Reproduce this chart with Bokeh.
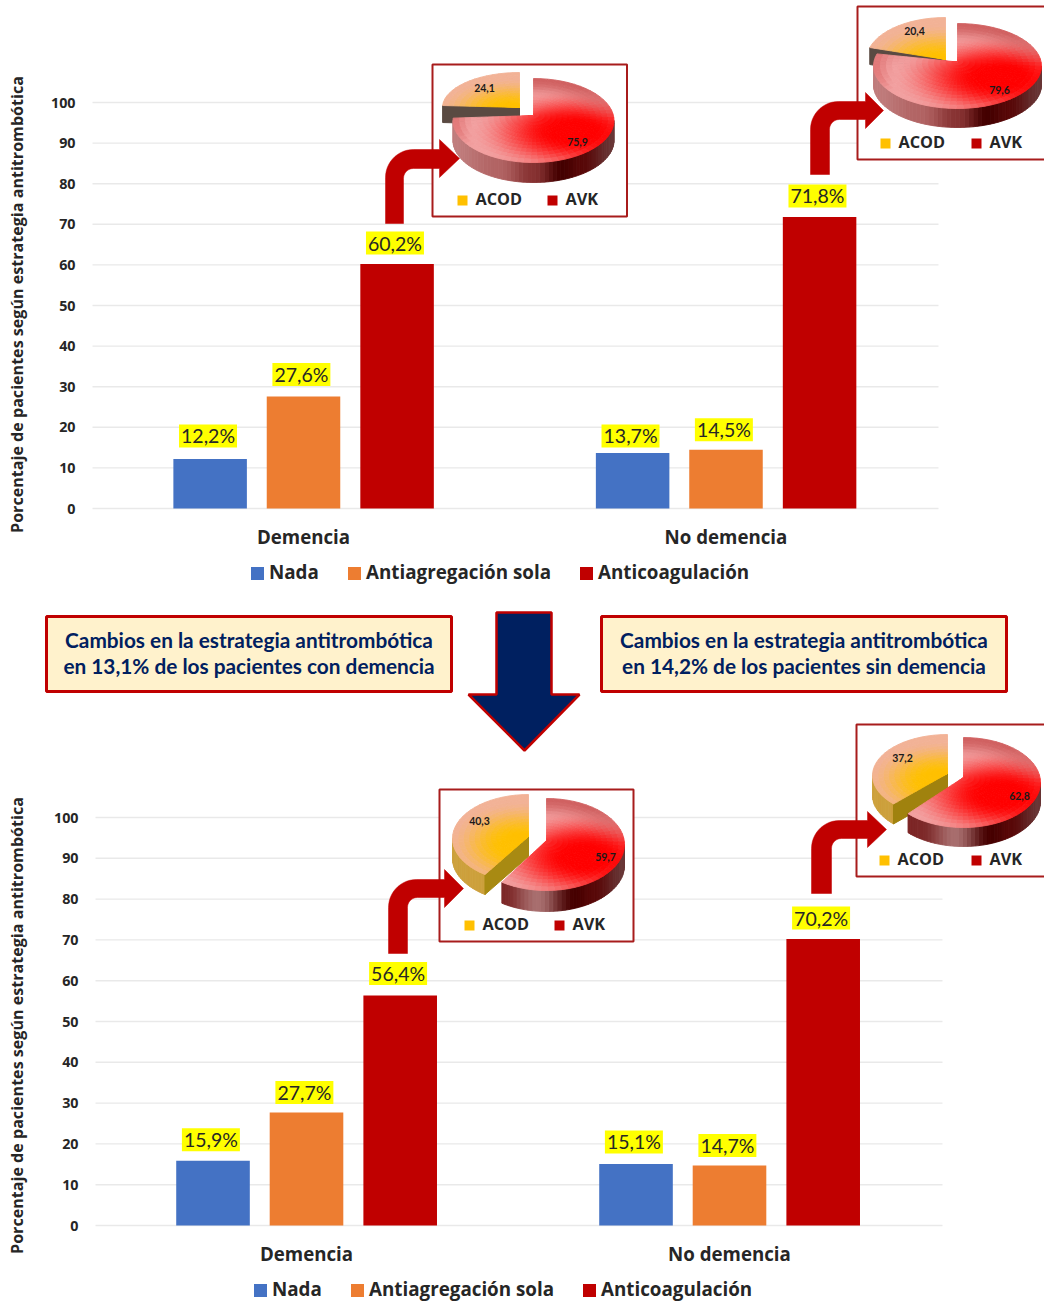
import numpy as np
from bokeh.plotting import figure
from bokeh.models import Range1d, LinearAxis, FixedTicker, ColumnDataSource
from bokeh.core.properties import value
from bokeh.embed import file_html
from bokeh.resources import INLINE

# ---------- data ----------
CATEGORIES = ["Demencia", "No demencia"]
SERIES = ["Nada", "Antiagregación sola", "Anticoagulación"]
TOP_NADA = [12.2, 13.7]
TOP_ANTIAG = [27.6, 14.5]
TOP_ANTICO = [60.2, 71.8]
BOTTOM_NADA = [15.9, 15.1]
BOTTOM_ANTIAG = [27.7, 14.7]
BOTTOM_ANTICO = [56.4, 70.2]
Y_TICKS = [0, 10, 20, 30, 40, 50, 60, 70, 80, 90, 100]
PIE_LABELS = ["ACOD", "AVK"]
PIE1_ACOD_AVK = [24.1, 75.9]
PIE2_ACOD_AVK = [20.4, 79.6]
PIE3_ACOD_AVK = [40.3, 59.7]
PIE4_ACOD_AVK = [37.2, 62.8]
Y_TITLE = "Porcentaje de pacientes según estrategia antitrombótica"
BANNER_LEFT = ["Cambios en la estrategia antitrombótica", "en 13,1% de los pacientes con demencia"]
BANNER_RIGHT = ["Cambios en la estrategia antitrombótica", "en 14,2% de los pacientes sin demencia"]

# ---------- style / layout ----------
W, H = 1044, 1304
LEFT, TOP, RIGHT, BOTTOM = 0, 0, W, H
COLORS = ["#4472c4", "#ed7d31", "#c00000"]
DARK_RED = "#c00000"
BOX_RED = "#a81c1c"
NAVY = "#002060"
TICK_FONT = "Open Sans"
CALIBRI = "Lato"
TXT = "#262626"

p = figure(width=W, height=H, x_range=Range1d(LEFT, RIGHT), y_range=Range1d(BOTTOM, TOP),
           x_axis_type=None, y_axis_type=None, toolbar_location=None,
           output_backend="svg", min_border=0, outline_line_color=None,
           background_fill_color="white", border_fill_color="white")
p.grid.visible = False


def chart(name, y0, y100, x_cat0, x_cat1, grid_x0, grid_x1, series, lifts, legend_x, legend_y, title_y, cat_y):
    k = (y0 - y100) / 100.0
    yname, xname = name + "_y", name + "_x"
    p.extra_y_ranges[yname] = Range1d((y0 - BOTTOM) / k, (y0 - TOP) / k)
    spacing = x_cat1 - x_cat0
    p.extra_x_ranges[xname] = Range1d((LEFT - x_cat0) / spacing, (RIGHT - x_cat0) / spacing)

    # grid lines
    p.segment(x0=[grid_x0] * len(Y_TICKS), x1=[grid_x1] * len(Y_TICKS), y0=Y_TICKS, y1=Y_TICKS,
              y_range_name=yname, line_color="#e9e9e9", line_width=1.4)

    # bars and data labels
    offs = [-0.221, 0.0, 0.2215]
    for i, vals in enumerate(series):
        xs = [c + offs[i] for c in range(len(CATEGORIES))]
        p.vbar(x=xs, top=vals, bottom=0, width=0.174, x_range_name=xname, y_range_name=yname,
               fill_color=COLORS[i], line_color=None)
        src = ColumnDataSource(dict(x=[x - 0.005 for x in xs], y=vals,
                                    t=[f"{v:.1f}%".replace(".", ",") for v in vals],
                                    o=lifts[i]))
        p.text(x="x", y="y", text="t", source=src, x_range_name=xname, y_range_name=yname,
               y_offset="o", text_align="center", text_baseline="middle",
               text_font=value(CALIBRI), text_font_size="19.5px", text_color=TXT,
               background_fill_color="#ffff00", padding=(2, 0))

    # axes
    ya = LinearAxis(y_range_name=yname, ticker=FixedTicker(ticks=Y_TICKS), fixed_location=grid_x0,
                    axis_line_color=None, major_tick_line_color=None, minor_tick_line_color=None,
                    major_label_standoff=11, major_label_text_font=TICK_FONT,
                    major_label_text_font_style="bold", major_label_text_font_size="14.3px",
                    major_label_text_color=TXT)
    p.add_layout(ya, "left")
    xa = LinearAxis(x_range_name=xname, ticker=FixedTicker(ticks=list(range(len(CATEGORIES)))),
                    major_label_overrides={i: c for i, c in enumerate(CATEGORIES)},
                    fixed_location=y0, axis_line_color=None, major_tick_line_color=None,
                    minor_tick_line_color=None, major_label_standoff=cat_y,
                    major_label_text_font=TICK_FONT, major_label_text_font_style="bold",
                    major_label_text_font_size="18.7px", major_label_text_color=TXT)
    p.add_layout(xa, "below")

    # y title
    p.text(x=[16.5], y=[title_y], text=[Y_TITLE], angle=np.pi / 2, text_align="center",
           text_baseline="middle", text_font=value(TICK_FONT), text_font_style="bold",
           text_font_size="16.1px", text_color=TXT)

    # legend
    for i, s in enumerate(SERIES):
        p.scatter(x=[legend_x[i]], y=[legend_y], marker="square", size=13,
                  fill_color=COLORS[i], line_color=None)
        p.text(x=[legend_x[i] + 11.5], y=[legend_y - 1.2], text=[s], text_align="left", text_baseline="middle",
               text_font=value(TICK_FONT), text_font_style="bold", text_font_size="18.8px",
               text_color=TXT)


chart("top", 508, 102, 303, 725.5, 92, 938,
      [TOP_NADA, TOP_ANTIAG, TOP_ANTICO],
      [[-23, -17], [-22, -20], [-21, -21]], [257, 354, 586], 573, 304, 9)
chart("bot", 1225, 817, 306, 729, 95, 942,
      [BOTTOM_NADA, BOTTOM_ANTIAG, BOTTOM_ANTICO],
      [[-21, -22], [-20, -20], [-22, -21]], [260, 357, 589], 1290, 1025, 9)


def lerp(a, b, t):
    return a + (b - a) * t


def sstep(e0, e1, x):
    t = min(max((x - e0) / (e1 - e0), 0.0), 1.0)
    return t * t * (3 - 2 * t)


def mix(c0, c1, t):
    return tuple(lerp(a, b, t) for a, b in zip(c0, c1))


def hexc(c):
    return "#%02x%02x%02x" % tuple(int(round(min(max(v, 0), 255))) for v in c)


def red_shade(u, v):
    d = np.hypot((u - 0.5) / 1.15, (v - 0.28) / 0.95)
    c = mix((255, 0, 0), (242, 160, 160), sstep(0.22, 1.12, d))
    r = np.hypot(u, v)
    if v < 0:
        c = mix(c, (208, 96, 96), sstep(0.5, 1.0, r) * min(1.0, -v * 1.3))
    if u < -0.75:
        c = mix(c, (226, 120, 120), sstep(0.75, 1.0, -u))
    return c


def gold_shade(u, v):
    d = np.hypot((u + 0.12) / 1.0, (v - 0.15) / 1.05)
    c = mix((255, 192, 0), (242, 178, 150), sstep(0.22, 0.95, d))
    return c


def stops(t, table):
    for (t0, c0), (t1, c1) in zip(table, table[1:]):
        if t <= t1:
            return mix(c0, c1, sstep(t0, t1, t) if t1 > t0 else 1)
    return table[-1][1]


WALL_A = [(-1, (192, 125, 125)), (-0.45, (178, 100, 100)), (0.0, (135, 50, 50)), (0.35, (68, 0, 0)),
          (0.6, (88, 8, 8)), (1, (105, 55, 55))]
WALL_B = [(-1, (120, 30, 30)), (-0.55, (125, 40, 40)), (-0.12, (168, 110, 110)), (0.35, (70, 0, 0)),
          (0.6, (88, 8, 8)), (1, (105, 55, 55))]


def rim(cx, cy, rx, ry, th):
    return cx + rx * np.sin(th), cy - ry * np.cos(th)


def slice_surface(cx, cy, rx, ry, apex_dy, th0, th1, shade, da=np.radians(5), rings=14):
    n = max(4, int(abs(th1 - th0) / da))
    ts = np.linspace(th0, th1, n + 1)
    ss = np.linspace(0, 1, rings + 1)
    ax, ay = cx, cy + apex_dy
    xs, ys, cols = [], [], []
    for a0, a1 in zip(ts, ts[1:]):
        x0, y0 = rim(cx, cy, rx, ry, a0)
        x1, y1 = rim(cx, cy, rx, ry, a1)
        for s0, s1 in zip(ss, ss[1:]):
            qx = [lerp(ax, x0, s0), lerp(ax, x0, s1), lerp(ax, x1, s1), lerp(ax, x1, s0)]
            qy = [lerp(ay, y0, s0), lerp(ay, y0, s1), lerp(ay, y1, s1), lerp(ay, y1, s0)]
            xs.append(qx)
            ys.append(qy)
            u = (np.mean(qx) - cx) / rx
            v = (np.mean(qy) - cy) / ry
            cols.append(hexc(shade(u, v)))
    p.patches(xs=xs, ys=ys, fill_color=cols, line_color=cols, line_width=0.9)


def slice_wall(cx, cy, rx, ry, depth, th0, th1, shade):
    lo, hi = max(th0, np.pi / 2), min(th1, 3 * np.pi / 2)
    if hi <= lo:
        return
    n = max(2, int((hi - lo) / np.radians(3)))
    ts = np.linspace(lo, hi, n + 1)
    xs, ys, cols = [], [], []
    for a0, a1 in zip(ts, ts[1:]):
        x0, y0 = rim(cx, cy, rx, ry, a0)
        x1, y1 = rim(cx, cy, rx, ry, a1)
        xs.append([x0, x1, x1, x0])
        ys.append([y0, y1, y1 + depth, y0 + depth])
        cols.append(hexc(shade(((x0 + x1) / 2 - cx) / rx)))
    p.patches(xs=xs, ys=ys, fill_color=cols, line_color=cols, line_width=0.9)


def pie(shares, red, gold, red_wall, face_col, gold_wall, lbl_gold, lbl_red):
    f_gold, f_red = shares[0] / 100.0, shares[1] / 100.0
    th_red = 2 * np.pi * f_red
    th_gold = 2 * np.pi * (1 - f_gold)
    # gold slice: cut face, wall, surface
    gx, gy, grx, gry, gdepth, gapex = gold
    ax, ay = gx, gy + gapex
    ex, ey = rim(gx, gy, grx, gry, th_gold)
    slice_wall(gx, gy, grx, gry, gdepth, th_gold, 2 * np.pi, lambda t: gold_wall)
    p.patch(x=[ax, ex, ex, ax], y=[ay, ey, ey + gdepth, ay + gdepth], fill_color=face_col, line_color=face_col)
    slice_surface(gx, gy, grx, gry, gapex, th_gold, 2 * np.pi, gold_shade)
    # red slice
    cx, cy, rx, ry, depth, apex = red
    slice_wall(cx, cy, rx, ry, depth, 0, th_red, lambda t: stops(t, red_wall))
    slice_surface(cx, cy, rx, ry, apex, 0, th_red, red_shade)
    # value labels
    for (lx, ly), v in zip((lbl_gold, lbl_red), shares):
        p.text(x=[lx], y=[ly - 1], text=[f"{v:.1f}".replace(".", ",")], text_align="center", text_baseline="middle",
               text_font=value(CALIBRI), text_font_style="bold", text_font_size="10.5px",
               text_color="#1a1a1a")


def box(x0, x1, y0, y1):
    p.quad(left=[x0], right=[x1], top=[y0], bottom=[y1], fill_color="white",
           line_color=BOX_RED, line_width=2)


def pie_legend(x0, x1, y):
    for x, lab, c in zip((x0, x1), PIE_LABELS, ("#ffc000", DARK_RED)):
        p.scatter(x=[x], y=[y], marker="square", size=10, fill_color=c, line_color=None)
        p.text(x=[x + 13], y=[y - 1.5], text=[lab], text_align="left", text_baseline="middle",
               text_font=value(TICK_FONT), text_font_style="bold", text_font_size="16.3px", text_color=TXT)


def bent_arrow(xl, xr, ybot, ytop, ybar, xbase, htop, hbot, tip, ro=28, ri=10):
    ang = np.linspace(np.pi, np.pi / 2, 14)
    ox = xl + ro + ro * np.cos(ang)
    oy = ytop + ro - ro * np.sin(ang)
    ang2 = np.linspace(np.pi / 2, np.pi, 10)
    ix = xr + ri + ri * np.cos(ang2)
    iy = ybar + ri - ri * np.sin(ang2)
    xs = [xl] + list(ox) + [xbase, xbase, tip, xbase, xbase] + list(ix) + [xr]
    ys = [ybot] + list(oy) + [ytop, htop, (htop + hbot) / 2, hbot, ybar] + list(iy) + [ybot]
    p.patch(x=xs, y=ys, fill_color=DARK_RED, line_color=DARK_RED, line_width=0.5)


# Pie insets
box(432, 626.5, 64, 216)
pie(PIE1_ACOD_AVK, (533, 120, 80.5, 42, 20, -5), (519, 107, 77, 35, 17, 0), WALL_A, "#5a4a42", (90, 75, 60),
    (484, 88), (577, 142))
pie_legend(462, 552, 200)
bent_arrow(385, 403, 223, 149, 168, 439, 139, 177, 459)

box(857, 1060, 6, 159)
pie(PIE2_ACOD_AVK, (957, 65.5, 84, 42.5, 19, -4), (945, 59, 79, 42, 17, 0), WALL_A, "#5a4a42", (90, 75, 60),
    (914, 31), (999, 90))
pie_legend(885, 976, 143)
bent_arrow(810, 829, 174, 101, 119, 865, 92, 128, 883)

box(439, 633, 789, 941)
pie(PIE3_ACOD_AVK, (546, 844, 78, 46, 21, -4), (528, 838, 76, 44, 20, -2), WALL_B, "#a88a12", (205, 160, 60),
    (479, 821), (605, 857))
pie_legend(469, 559, 925)
bent_arrow(388, 407, 953, 879, 897, 444, 869, 907, 463)

box(856, 1060, 724, 876)
pie(PIE4_ACOD_AVK, (963, 782, 77, 45, 19, -5), (947, 775, 75, 41, 20, -2), WALL_B, "#a0820e", (205, 160, 60),
    (902, 758), (1019, 796))
pie_legend(884, 976, 860)
bent_arrow(811, 831, 893, 820, 838, 867, 811, 847, 886)

# Big arrow
p.patch(x=[496, 551, 551, 579, 524, 468, 496], y=[612, 612, 694, 694, 750, 694, 694],
        fill_color=NAVY, line_color=DARK_RED, line_width=2.5)

# Banners
for (x0, x1, lines) in ((46, 451, BANNER_LEFT), (601, 1006, BANNER_RIGHT)):
    p.quad(left=[x0], right=[x1], top=[616], bottom=[691], fill_color="#fff2cc",
           line_color=DARK_RED, line_width=3)
    p.text(x=[(x0 + x1) / 2] * 2, y=[638.5, 665], text=lines, text_align="center", text_baseline="middle",
           text_font=value(CALIBRI), text_font_style="bold", text_font_size="20.8px", text_color=NAVY)

open("out.html", "w").write(file_html(p, INLINE))
